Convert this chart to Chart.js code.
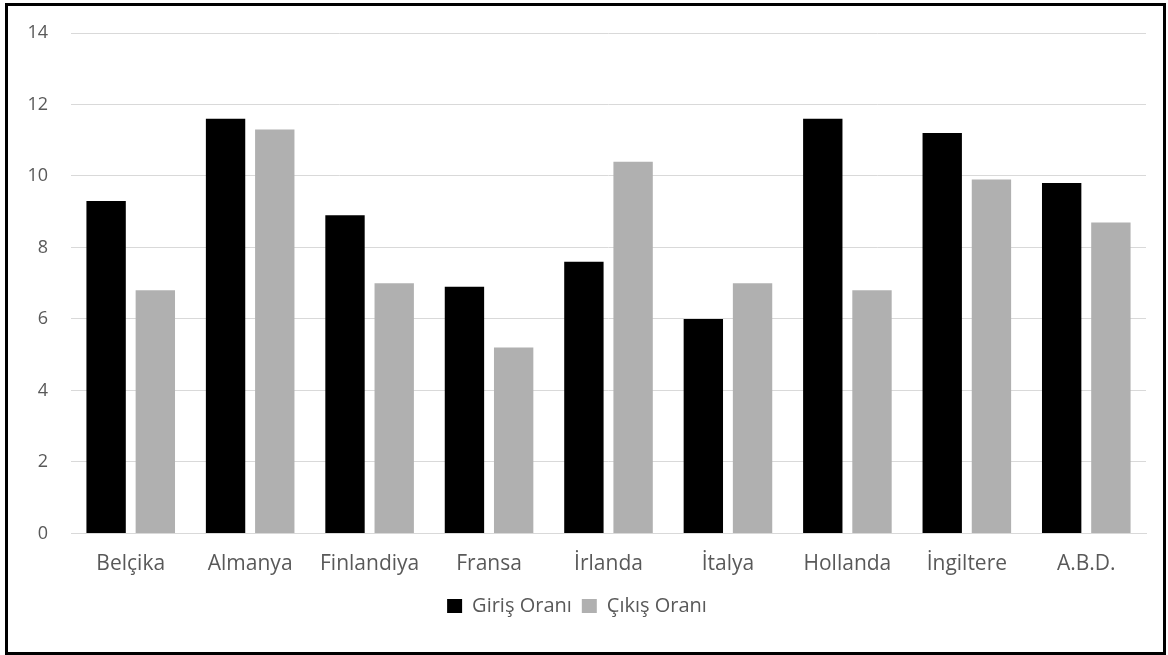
<!DOCTYPE html>
<html>
<head>
<meta charset="utf-8">
<script src="https://cdn.jsdelivr.net/npm/chart.js@4"></script>
<style>
    body { margin: 0; background: #fff; }
    #kutu {
        position: absolute; left: 5px; top: 3px;
        width: 1155px; height: 646px;
        border: 3px solid #000; background: #fff;
    }
</style>
</head>
<body>
<div id="kutu"><canvas id="grafik" width="1155" height="646"></canvas></div>
<script>
// ulkeler ve oranlar
const ulkeler = ['Belçika', 'Almanya', 'Finlandiya', 'Fransa', 'İrlanda', 'İtalya', 'Hollanda', 'İngiltere', 'A.B.D.'];
const girisOrani = [9.3, 11.6, 8.9, 6.9, 7.6, 6.0, 11.6, 11.2, 9.8];
const cikisOrani = [6.8, 11.3, 7.0, 5.2, 10.4, 7.0, 6.8, 9.9, 8.7];
const yTikleri = [0, 2, 4, 6, 8, 10, 12, 14];

const yaziRengi = '#595959';
const aile = '"Open Sans", sans-serif';

const ctx = document.getElementById('grafik');

new Chart(ctx, {
    type: 'bar',
    data: {
        labels: ulkeler,
        datasets: [{
            label: 'Giriş Oranı',
            data: girisOrani,
            backgroundColor: '#000000',
            categoryPercentage: 0.824,
            barPercentage: 0.8
        }, {
            label: 'Çıkış Oranı',
            data: cikisOrani,
            backgroundColor: '#b0b0b0',
            categoryPercentage: 0.824,
            barPercentage: 0.8
        }]
    },
    options: {
        responsive: false,
        animation: false,
        layout: {
            padding: { left: 0, right: 17, top: 27, bottom: 26 }
        },
        plugins: {
            legend: {
                position: 'bottom',
                labels: {
                    color: yaziRengi,
                    font: { family: aile, size: 20 },
                    boxWidth: 15,
                    boxHeight: 14,
                    padding: 10
                }
            },
            tooltip: { enabled: false }
        },
        scales: {
            x: {
                grid: { display: false },
                border: { color: '#d9d9d9', width: 1 },
                ticks: { color: yaziRengi, font: { family: aile, size: 21, lineHeight: 0.6 }, padding: 16, maxRotation: 0 }
            },
            y: {
                min: 0,
                max: 14,
                afterBuildTicks: function (axis) {
                    axis.ticks = yTikleri.map(function (v) { return { value: v }; });
                },
                afterFit: function (axis) {
                    axis.width = 63;
                },
                grid: { color: '#d9d9d9', tickLength: 17, tickColor: 'rgba(0,0,0,0)' },
                border: { display: false },
                ticks: { color: yaziRengi, font: { family: aile, size: 18 }, padding: 6 }
            }
        }
    }
});
</script>
</body>
</html>
